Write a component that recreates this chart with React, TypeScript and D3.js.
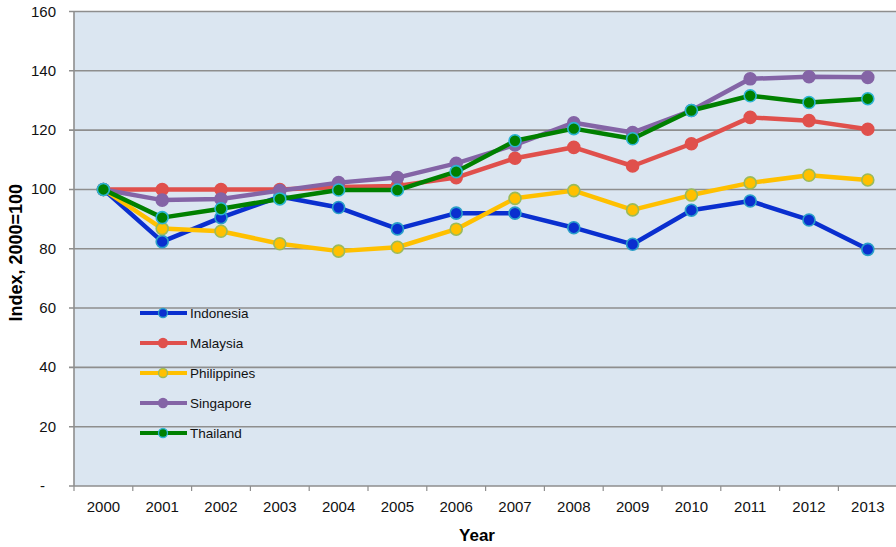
import React from "react";
import * as d3 from "d3";

const years = ["2000","2001","2002","2003","2004","2005","2006","2007","2008","2009","2010","2011","2012","2013"];
const indonesia = [100, 82.4, 90.5, 97.6, 93.9, 86.7, 92.0, 92.0, 87.1, 81.5, 93.0, 96.1, 89.7, 79.8];
const malaysia = [100, 100, 100, 100, 100.8, 101.2, 104.0, 110.5, 114.2, 107.9, 115.4, 124.3, 123.2, 120.3];
const philippines = [100, 86.8, 85.9, 81.7, 79.2, 80.5, 86.6, 97.0, 99.6, 93.1, 98.1, 102.2, 104.8, 103.2];
const singapore = [100, 96.4, 96.8, 99.6, 102.3, 104.0, 108.8, 115.0, 122.5, 119.2, 126.6, 137.3, 138.0, 137.8];
const thailand = [100, 90.5, 93.5, 96.8, 99.8, 99.8, 106.0, 116.4, 120.5, 117.1, 126.6, 131.6, 129.3, 130.6];
const yTicks = [0, 20, 40, 60, 80, 100, 120, 140, 160];

const seriesList = [
  { name: "Indonesia", values: indonesia, line: "#0a2fcf", fill: "#0a2fcf", stroke: "#2a9fc8" },
  { name: "Malaysia", values: malaysia, line: "#e0504c", fill: "#e0504c", stroke: "#e0504c" },
  { name: "Philippines", values: philippines, line: "#ffc000", fill: "#ffc000", stroke: "#9bbb59" },
  { name: "Singapore", values: singapore, line: "#8464a6", fill: "#8464a6", stroke: "#8464a6" },
  { name: "Thailand", values: thailand, line: "#008000", fill: "#008000", stroke: "#2cb4d4" },
];
// draw order (bottom to top)
const drawOrder = ["Malaysia", "Indonesia", "Philippines", "Singapore", "Thailand"];

const W = 896, H = 547;
const left = 74, top = 11.5, bottom = 486;
const plotRight = left + 14 * 58.8;
const font = "'Liberation Sans', Arial, Helvetica, sans-serif";

export default function App() {
  const x = d3.scaleBand().domain(years).range([left, plotRight]).padding(0);
  const y = d3.scaleLinear().domain([0, 160]).range([bottom, top]);
  const cx = (yr: string) => (x(yr) as number) + x.bandwidth() / 2;
  const line = d3.line<number>().x((_, i) => cx(years[i])).y(d => y(d));
  const grey = "#8e8e8e";
  const legendY = [313, 343, 373, 403, 433];

  return (
    <svg width={W} height={H} style={{ position: "absolute", left: 0, top: 0 }} fontFamily={font}>
      <rect x={left} y={top} width={plotRight - left} height={bottom - top} fill="#dbe6f1" />
      {yTicks.filter(t => t > 0).map(t => (
        <line key={t} x1={left - 5} x2={plotRight} y1={y(t)} y2={y(t)} stroke={grey} strokeWidth={1.6} />
      ))}
      <line x1={left} x2={left} y1={top} y2={bottom} stroke={grey} strokeWidth={1.6} />
      <line x1={left - 5} x2={plotRight} y1={bottom} y2={bottom} stroke={grey} strokeWidth={1.6} />
      {years.map(yr => (
        <line key={yr} x1={x(yr)} x2={x(yr)} y1={bottom} y2={bottom + 5} stroke={grey} strokeWidth={1.2} />
      ))}
      {yTicks.map(t => (
        <text key={t} x={t === 0 ? 45 : 56} y={y(t) + 5} textAnchor="end" fontSize={15} fill="#111">
          {t === 0 ? "-" : String(t)}
        </text>
      ))}
      {years.map(yr => (
        <text key={yr} x={cx(yr)} y={512} textAnchor="middle" fontSize={15} fill="#111">{yr}</text>
      ))}
      <text x={477} y={541} textAnchor="middle" fontSize={17} fontWeight="bold" fill="#000">Year</text>
      <text transform={`translate(22,${(top + bottom) / 2 + 4}) rotate(-90)`} textAnchor="middle" fontSize={18} fontWeight="bold" fill="#000">Index, 2000=100</text>

      {drawOrder.map(n => {
        const s = seriesList.find(d => d.name === n)!;
        return (
          <g key={n}>
            <path d={line(s.values) || ""} fill="none" stroke={s.line} strokeWidth={4.5} strokeLinejoin="round" />
            {s.values.map((v, i) => (
              <circle key={i} cx={cx(years[i])} cy={y(v)} r={6} fill={s.fill} stroke={s.stroke} strokeWidth={1.6} />
            ))}
          </g>
        );
      })}

      {seriesList.map((s, i) => (
        <g key={s.name}>
          <line x1={140} x2={187} y1={legendY[i]} y2={legendY[i]} stroke={s.line} strokeWidth={4} />
          <circle cx={163} cy={legendY[i]} r={4.5} fill={s.fill} stroke={s.stroke} strokeWidth={1.3} />
          <text x={190} y={legendY[i] + 5} fontSize={13.5} fill="#111">{s.name}</text>
        </g>
      ))}
    </svg>
  );
}
